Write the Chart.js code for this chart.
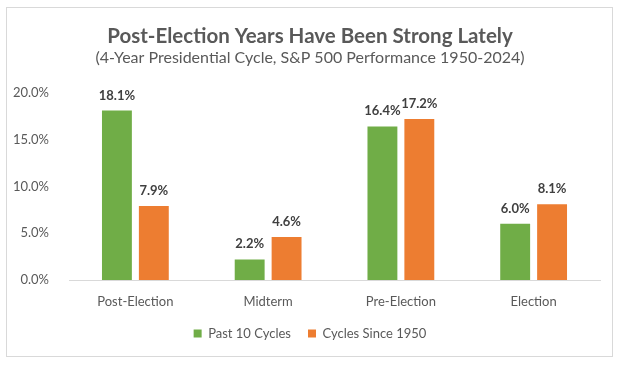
<!DOCTYPE html>
<html>
<head>
<meta charset="utf-8">
<script src="https://cdn.jsdelivr.net/npm/chart.js@4/dist/chart.umd.min.js"></script>
<style>
  html, body { margin: 0; padding: 0; background: #fff; }
  #wrap { position: relative; width: 620px; height: 367px; }
  #frame { position: absolute; left: 6px; top: 7px; width: 607px; height: 350px; border: 1.5px solid #D9D9D9; box-sizing: border-box; pointer-events: none; }
  canvas { position: absolute; left: 0; top: 0; }
</style>
</head>
<body>
<div id="wrap">
  <canvas id="c" width="620" height="367"></canvas>
  <div id="frame"></div>
</div>
<script>
const categories = ["Post-Election", "Midterm", "Pre-Election", "Election"];
const past10Cycles = [18.1, 2.2, 16.4, 6.0];
const cyclesSince1950 = [7.9, 4.6, 17.2, 8.1];
const seriesNames = ["Past 10 Cycles", "Cycles Since 1950"];
const titleText = "Post-Election Years Have Been Strong Lately";
const subtitleText = "(4-Year Presidential Cycle, S&P 500 Performance 1950-2024)";

const FONT = "Lato, 'Open Sans', sans-serif";
const GRAY = "#595959";

const valueLabels = {
  id: "valueLabels",
  afterDatasetsDraw(chart) {
    const ctx = chart.ctx;
    ctx.save();
    ctx.font = "bold 13px " + FONT;
    ctx.fillStyle = "#404040";
    ctx.textAlign = "center";
    ctx.textBaseline = "alphabetic";
    chart.data.datasets.forEach((ds, di) => {
      const meta = chart.getDatasetMeta(di);
      meta.data.forEach((bar, i) => {
        ctx.fillText(ds.data[i].toFixed(1) + "%", bar.x, bar.y - 11);
      });
    });
    ctx.restore();
  }
};

new Chart(document.getElementById("c"), {
  type: "bar",
  data: {
    labels: categories,
    datasets: [
      { label: seriesNames[0], data: past10Cycles, backgroundColor: "#70AD47" },
      { label: seriesNames[1], data: cyclesSince1950, backgroundColor: "#ED7D31" }
    ]
  },
  options: {
    responsive: false,
    animation: false,
    devicePixelRatio: 1,
    layout: { padding: { top: 0, right: 0, bottom: 17, left: 0 } },
    datasets: { bar: { barPercentage: 0.81, categoryPercentage: 0.556 } },
    plugins: {
      title: {
        display: true, text: titleText, color: GRAY,
        font: { family: FONT, size: 20.5, weight: "bold" },
        padding: { top: 24, bottom: 0 }
      },
      subtitle: {
        display: true, text: subtitleText, color: GRAY,
        font: { family: FONT, size: 16 },
        padding: { top: 0, bottom: 25 }
      },
      legend: {
        position: "bottom",
        labels: { color: GRAY, font: { family: FONT, size: 13 }, boxWidth: 8, boxHeight: 8, padding: 17 }
      },
      tooltip: { enabled: false }
    },
    scales: {
      x: {
        grid: { display: false },
        border: { display: true, color: "#D9D9D9" },
        ticks: { color: GRAY, font: { family: FONT, size: 13 }, padding: 6 },
        afterFit(s) { s.height = 30; }
      },
      y: {
        min: 0, max: 20,
        grid: { display: false },
        border: { display: false },
        ticks: { stepSize: 5, color: GRAY, font: { family: FONT, size: 13 }, padding: 12,
          callback: v => v.toFixed(1) + "%" },
        afterFit(s) { s.width = 69; }
      },
      yRight: {
        type: "linear", position: "right", min: 0, max: 20,
        grid: { display: false },
        border: { display: false },
        ticks: { display: false },
        afterFit(s) { s.width = 20; }
      }
    }
  },
  plugins: [valueLabels]
});
</script>
</body>
</html>
